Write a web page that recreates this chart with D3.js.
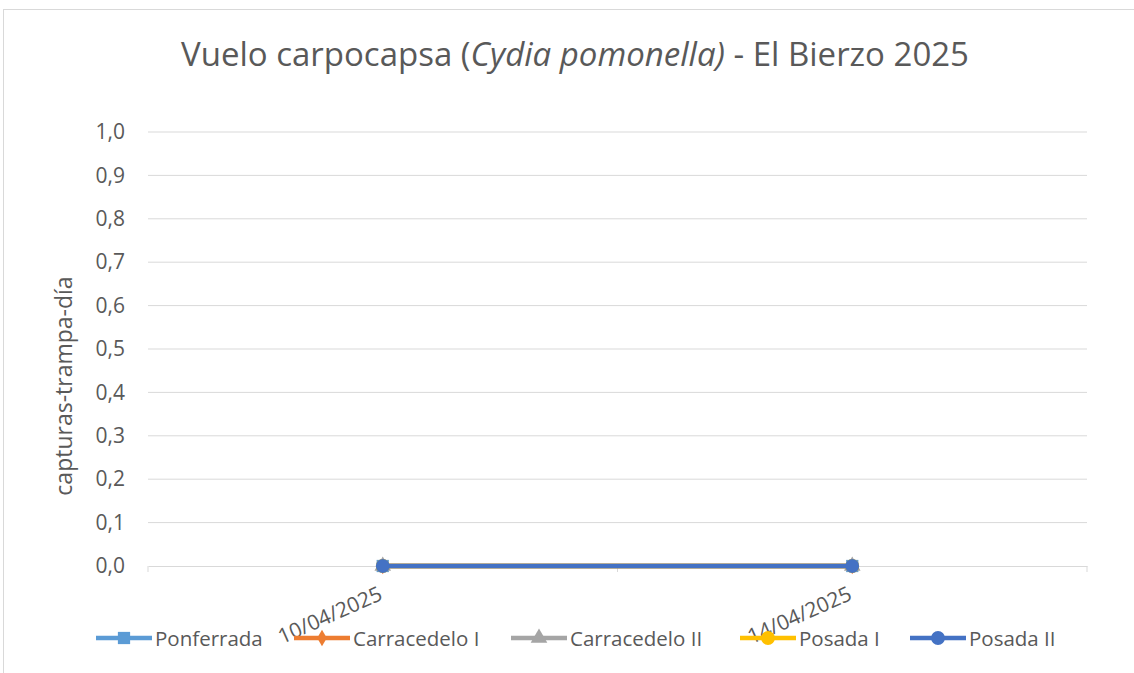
<!DOCTYPE html>
<html>
  <head>
    <style>
      body { margin: 0; background: #fff; }
      text { font-family: 'Open Sans', sans-serif; fill: #595959; }
      .grid line { stroke: #d9d9d9; stroke-width: 1px; }
    </style>
  </head>
  <body>
    <script src="https://cdn.jsdelivr.net/npm/d3@7"></script>
    <script>
      var width = 1134;
      var height = 673;

      var dates = ["10/04/2025", "14/04/2025"];
      var seriesNames = ["Ponferrada", "Carracedelo I", "Carracedelo II", "Posada I", "Posada II"];
      var ponferrada = [0, 0];
      var carracedeloI = [0, 0];
      var carracedeloII = [0, 0];
      var posadaI = [0, 0];
      var posadaII = [0, 0];
      var yTicks = [0, 0.1, 0.2, 0.3, 0.4, 0.5, 0.6, 0.7, 0.8, 0.9, 1.0];

      var colors = ["#5b9bd5", "#ed7d31", "#a5a5a5", "#ffc000", "#4472c4"];
      var symbols = [d3.symbolSquare, d3.symbolDiamond, d3.symbolTriangle, d3.symbolCircle, d3.symbolCircle];
      var symbolSizes = [150, 80, 120, 150, 150];
      var allValues = [ponferrada, carracedeloI, carracedeloII, posadaI, posadaII];

      var series = seriesNames.map(function(name, i) {
        return { name: name, values: allValues[i], color: colors[i], symbol: symbols[i], size: symbolSizes[i] };
      });

      var margin = { left: 148, right: 1087, top: 132, bottom: 566 };

      var svg = d3.select("body")
        .append("svg")
        .attr("width", width)
        .attr("height", height);

      // chart border
      svg.append("rect")
        .attr("x", 3.5).attr("y", 9.5)
        .attr("width", 1140).attr("height", 680)
        .attr("fill", "none").attr("stroke", "#d9d9d9");

      var x = d3.scaleBand().domain(dates).range([margin.left, margin.right]);
      var y = d3.scaleLinear().domain([0, 1]).range([margin.bottom, margin.top]);

      // gridlines
      svg.append("g")
        .attr("class", "grid")
        .selectAll("line")
        .data(yTicks.slice(1))
        .enter().append("line")
        .attr("x1", margin.left).attr("x2", margin.right)
        .attr("y1", function(d) { return y(d); })
        .attr("y2", function(d) { return y(d); });

      // y axis labels
      var yAxis = svg.append("g")
        .attr("transform", "translate(" + margin.left + ",0)")
        .call(d3.axisLeft(y).tickValues(yTicks).tickSize(0).tickPadding(23)
          .tickFormat(function(d) { return d3.format(".1f")(d).replace(".", ","); }));
      yAxis.select(".domain").remove();
      yAxis.selectAll("text")
        .style("font-size", "21px")
        .style("fill", "#595959")
        .style("font-family", "'Open Sans', sans-serif");

      // x axis
      var xAxis = svg.append("g")
        .attr("transform", "translate(0," + margin.bottom + ")")
        .call(d3.axisBottom(x).tickSize(0).tickFormat(""));
      xAxis.select(".domain").attr("stroke", "#d9d9d9").attr("stroke-width", 1);
      xAxis.selectAll(".tick").remove();

      var tickPos = [margin.left].concat(dates.map(function(d) { return x(d) + x.bandwidth(); }));
      svg.append("g").selectAll("line")
        .data(tickPos)
        .enter().append("line")
        .attr("x1", function(d) { return d; }).attr("x2", function(d) { return d; })
        .attr("y1", margin.bottom).attr("y2", margin.bottom + 6)
        .attr("stroke", "#d9d9d9");

      svg.append("g").selectAll("text")
        .data(dates)
        .enter().append("text")
        .attr("transform", function(d) {
          return "translate(" + (x(d) + x.bandwidth() / 2 + 1) + "," + (margin.bottom + 33) + ") rotate(-24)";
        })
        .attr("text-anchor", "end")
        .style("font-size", "21px")
        .text(function(d) { return d; });

      // lines and markers
      var line = d3.line()
        .x(function(d, i) { return x(dates[i]) + x.bandwidth() / 2; })
        .y(function(d) { return y(d); });

      series.forEach(function(s) {
        svg.append("path")
          .datum(s.values)
          .attr("d", line)
          .attr("fill", "none")
          .attr("stroke", s.color)
          .attr("stroke-width", 4.5);
        svg.append("g").selectAll("path")
          .data(s.values)
          .enter().append("path")
          .attr("d", d3.symbol().type(s.symbol).size(s.size))
          .attr("transform", function(d, i) {
            return "translate(" + (x(dates[i]) + x.bandwidth() / 2) + "," + y(d) + ")";
          })
          .attr("fill", s.color);
      });

      // title
      var title = svg.append("text")
        .attr("x", 575).attr("y", 66)
        .attr("text-anchor", "middle")
        .style("font-size", "33px");
      title.append("tspan").text("Vuelo carpocapsa (");
      title.append("tspan").style("font-style", "italic").text("Cydia pomonella)");
      title.append("tspan").text(" - El Bierzo 2025");

      // y axis title
      svg.append("text")
        .attr("transform", "translate(72,386) rotate(-90)")
        .attr("text-anchor", "middle")
        .style("font-size", "23px")
        .text("capturas-trampa-día");

      // legend
      var legendX = [96, 294, 511, 740, 910];
      var legend = svg.append("g").selectAll("g")
        .data(series)
        .enter().append("g")
        .attr("transform", function(d, i) { return "translate(" + legendX[i] + ",638)"; });
      legend.append("line")
        .attr("x1", 0).attr("x2", 56)
        .attr("stroke", function(d) { return d.color; })
        .attr("stroke-width", 4.5);
      legend.append("path")
        .attr("d", function(d) { return d3.symbol().type(d.symbol).size(d.size)(); })
        .attr("transform", "translate(28,0)")
        .attr("fill", function(d) { return d.color; });
      legend.append("text")
        .attr("x", 59).attr("y", 8)
        .style("font-size", "20.5px")
        .text(function(d) { return d.name; });
    </script>
  </body>
</html>
